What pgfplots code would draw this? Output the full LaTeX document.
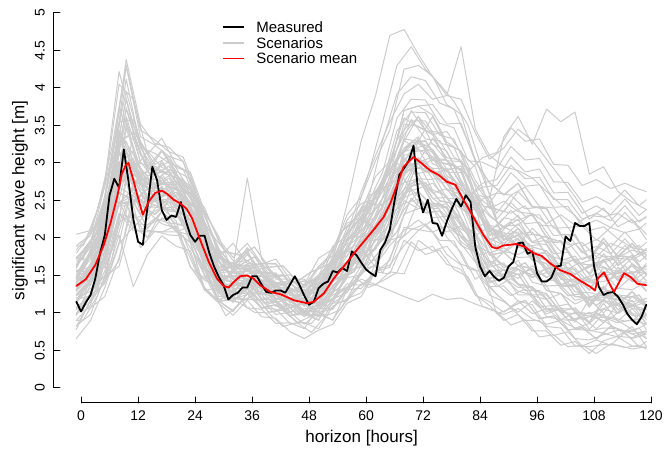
\documentclass[border=0pt]{standalone}
\usepackage{fontspec}
\setmainfont{Liberation Sans}
\usepackage{pgfplots}
\usepackage{pgfplotstable}
\pgfplotsset{compat=1.18}
\definecolor{scen}{RGB}{204,204,204}

% scenarios every 3 hours, one row per scenario; transposed below
\pgfplotstableread{
id c0 c1 c2 c3 c4 c5 c6 c7 c8 c9 c10 c11 c12 c13 c14 c15 c16 c17 c18 c19 c20 c21 c22 c23 c24 c25 c26 c27 c28 c29 c30 c31 c32 c33 c34 c35 c36 c37 c38 c39 c40
h -1 2 5 8 11 14 17 20 23 26 29 32 35 38 41 44 47 50 53 56 59 62 65 68 71 74 77 80 83 86 89 92 95 98 101 104 107 110 113 116 119
s1 1.52 1.82 2.24 3.43 3.11 2.74 2.73 2.66 2.30 1.86 1.37 1.35 1.45 1.20 1.17 1.01 1.06 1.06 1.35 1.51 1.90 2.08 2.58 3.01 3.33 3.07 3.04 2.72 2.46 1.97 2.04 1.88 1.83 1.54 1.48 1.22 1.21 1.24 1.22 1.15 1.19
s2 1.14 1.43 1.70 2.60 2.52 2.46 2.57 2.61 2.34 2.02 1.53 1.56 1.55 1.52 1.31 1.28 1.10 1.24 1.33 1.63 1.71 1.97 2.03 2.50 2.39 2.41 2.16 2.08 1.70 1.57 1.46 1.63 1.48 1.54 1.37 1.46 1.31 1.61 1.44 1.66 1.52
s3 1.72 1.90 2.55 3.70 3.35 2.93 2.89 2.86 2.53 2.17 1.62 1.61 1.58 1.53 1.34 1.33 1.18 1.37 1.55 1.97 2.17 2.60 2.86 3.52 3.49 3.38 3.03 2.90 2.37 2.15 2.02 2.19 1.95 2.03 1.82 1.92 1.73 1.99 1.76 1.93 1.72
s4 0.97 1.27 1.50 2.32 2.27 2.30 2.41 2.36 1.98 1.58 1.15 1.19 1.18 1.17 0.98 1.01 0.85 1.01 1.05 1.31 1.33 1.55 1.70 2.32 2.39 2.47 2.28 2.27 1.92 1.68 1.46 1.52 1.23 1.18 0.91 0.90 0.76 0.80 0.79 0.72 0.76
s5 1.31 1.66 2.02 3.14 3.02 2.83 2.88 2.80 2.42 2.03 1.49 1.50 1.46 1.41 1.25 1.29 1.15 1.38 1.50 1.89 2.03 2.39 2.53 3.05 2.94 2.86 2.53 2.39 1.92 1.68 1.46 1.52 1.24 1.24 1.02 1.07 0.88 1.18 1.00 1.22 1.08
s6 1.90 2.04 2.75 4.22 3.50 3.01 2.87 2.81 2.43 2.01 1.48 1.49 1.45 1.40 1.19 1.17 0.98 1.13 1.26 1.64 1.79 2.18 2.44 3.15 3.21 3.26 3.03 3.02 2.58 2.42 2.35 2.62 2.42 2.40 2.04 2.05 1.72 1.95 1.63 1.77 1.50
s7 0.82 1.16 1.43 2.31 2.19 2.18 2.25 2.31 2.03 1.72 1.31 1.37 1.40 1.41 1.25 1.29 1.14 1.37 1.54 1.97 2.17 2.61 2.94 3.70 3.76 3.64 3.28 3.15 2.58 2.31 2.13 2.25 1.94 1.91 1.59 1.58 1.30 1.56 1.32 1.49 1.29
s8 1.47 1.72 1.96 2.87 2.60 2.42 2.40 2.41 2.07 1.73 1.30 1.38 1.39 1.42 1.28 1.34 1.23 1.50 1.67 2.14 2.36 2.82 3.02 3.60 3.48 3.38 3.03 2.89 2.36 2.10 1.90 2.00 1.71 1.66 1.36 1.35 1.08 1.29 0.99 1.12 0.86
s9 1.23 1.39 1.94 2.74 2.81 2.43 2.68 2.45 2.33 1.77 1.57 1.62 2.80 1.72 1.45 1.45 1.29 1.49 1.61 1.97 2.08 2.39 2.52 3.05 2.93 2.92 2.65 2.58 2.14 1.99 1.91 2.13 1.94 1.97 1.70 1.76 1.51 1.72 1.43 1.55 1.29
s10 2.05 2.10 2.69 3.55 3.58 2.95 3.17 2.84 2.69 2.06 1.76 1.57 1.78 1.54 1.51 1.23 1.24 1.14 1.45 1.52 1.82 1.85 2.23 2.56 2.79 2.60 2.66 2.40 2.27 1.92 2.16 2.17 2.33 2.19 2.31 2.17 2.30 2.28 2.33 2.20 2.27
s11 0.66 0.90 1.34 1.92 2.15 2.01 2.36 2.09 1.94 1.31 1.13 0.97 1.17 0.95 0.93 0.75 0.66 0.77 0.85 1.13 1.22 1.55 1.61 2.14 2.11 2.08 1.78 1.64 1.24 1.10 0.90 0.98 0.76 0.76 0.57 0.62 0.46 0.63 0.69 0.67 0.76
s12 1.39 1.44 1.88 2.46 2.49 2.13 2.36 2.09 1.94 1.32 1.16 1.03 1.26 1.07 1.11 0.96 1.03 1.02 1.37 1.52 1.91 2.06 2.40 2.65 2.79 2.47 2.41 2.01 1.81 1.40 1.47 1.34 1.35 1.18 1.26 1.12 1.21 1.28 1.33 1.31 1.41
s13 1.63 1.88 2.16 3.15 2.93 2.71 2.72 2.71 2.37 2.03 1.55 1.62 1.63 1.66 1.48 1.51 1.36 1.62 1.81 2.31 2.55 3.03 3.44 4.25 4.30 4.16 3.78 3.65 3.03 2.73 2.58 2.73 2.42 2.39 2.05 2.04 1.72 2.00 1.74 1.93 1.71
s14 1.07 1.22 1.74 2.47 2.65 2.36 2.68 2.44 2.34 1.76 1.47 1.27 1.44 1.18 1.17 0.97 0.98 0.91 1.19 1.27 1.57 1.64 1.90 2.10 2.24 2.08 2.16 1.90 1.81 1.45 1.58 1.51 1.59 1.36 1.37 1.17 1.21 1.17 1.12 0.99 0.98
s15 1.40 1.60 2.29 3.27 3.41 2.88 3.16 2.89 2.79 2.21 1.85 1.62 1.81 1.54 1.53 1.29 1.31 1.26 1.58 1.68 2.01 2.06 2.48 2.83 3.07 2.86 2.91 2.64 2.49 2.08 2.27 2.23 2.32 2.01 1.95 1.67 1.64 1.60 1.55 1.42 1.41
s16 1.56 1.55 1.94 2.45 2.48 2.13 2.35 2.19 2.13 1.61 1.44 1.33 1.60 1.42 1.41 1.18 1.20 1.14 1.44 1.52 1.82 1.85 2.32 2.74 3.06 2.79 2.78 2.45 2.26 1.77 1.81 1.63 1.59 1.30 1.26 1.01 0.99 0.96 0.90 0.78 0.66
s17 1.15 1.33 1.42 2.04 1.35 1.78 2.03 1.89 1.83 1.31 1.16 1.02 1.26 1.06 1.11 0.96 1.02 1.03 1.20 1.34 1.45 1.38 1.30 1.22 1.15 1.25 1.18 1.20 1.12 1.05 0.98 1.06 0.92 0.85 0.90 0.80 0.86 1.05 1.00 1.10 1.05
s18 1.80 2.05 2.36 3.42 3.02 2.65 2.57 2.56 2.23 1.88 1.43 1.50 1.52 1.54 1.37 1.40 1.26 1.50 1.71 2.45 3.30 3.90 4.70 4.78 4.45 4.15 3.90 3.85 3.40 3.05 3.20 3.45 3.30 3.05 2.80 2.55 2.25 2.40 2.15 2.25 2.05
s19 1.30 1.60 1.89 2.86 2.77 2.66 2.72 2.76 2.47 2.18 1.61 1.62 1.57 1.54 1.30 1.29 1.09 1.25 1.33 1.64 1.70 1.97 2.19 2.88 2.93 3.05 2.90 2.96 2.58 2.53 3.35 3.62 3.25 3.72 3.55 3.68 2.85 2.95 2.62 2.48 2.38
s20 0.98 1.38 1.76 2.88 2.76 2.66 2.71 2.71 2.37 2.02 1.48 1.50 1.45 1.42 1.19 1.18 0.99 1.13 1.19 1.47 1.51 1.76 1.94 2.60 2.66 2.73 2.53 2.52 2.14 1.94 1.80 1.95 1.70 1.66 1.36 1.35 1.08 1.35 1.11 1.28 1.08
s21 1.48 1.77 2.09 3.01 2.98 2.49 2.67 2.40 2.23 1.62 1.34 1.15 1.32 1.07 1.05 0.86 0.87 0.79 1.09 1.19 1.53 1.64 2.15 2.65 3.07 2.86 2.91 2.64 2.49 2.03 2.15 2.05 2.08 1.77 1.72 1.46 1.42 1.49 1.55 1.52 1.63
s22 0.90 1.11 1.68 2.46 2.66 2.36 2.68 2.39 2.24 1.61 1.41 1.26 1.51 1.30 1.36 1.18 1.26 1.26 1.59 1.67 2.01 2.05 2.41 2.65 2.80 2.53 2.54 2.20 2.04 1.55 1.58 1.39 1.35 1.05 1.03 0.78 0.77 0.73 0.68 0.56 0.54
s23 1.74 1.93 2.70 4.05 3.85 3.12 3.33 2.98 2.84 2.21 1.85 1.62 1.81 1.54 1.53 1.29 1.31 1.26 1.66 1.84 2.30 2.47 2.99 3.38 3.62 3.38 3.42 3.14 2.95 2.39 2.49 2.35 2.32 2.01 1.95 1.67 1.64 1.70 1.77 1.74 1.85
s24 1.29 1.49 1.62 2.33 2.10 2.08 2.08 2.16 1.87 1.57 1.18 1.25 1.27 1.29 1.09 1.12 0.95 1.13 1.16 1.39 1.37 1.55 1.52 1.97 1.83 1.89 1.65 1.58 1.24 1.15 1.01 1.16 0.99 1.06 0.91 1.01 0.87 1.13 0.89 1.06 0.86
s25 1.24 1.43 2.08 2.99 3.16 2.71 3.00 2.74 2.64 2.06 1.79 1.62 1.87 1.66 1.66 1.40 1.43 1.38 1.69 1.76 2.06 2.05 2.32 2.46 2.52 2.27 2.29 1.95 1.81 1.35 1.36 1.16 1.11 0.82 0.80 0.56 0.55 0.58 0.57 0.52 0.55
s26 1.57 1.61 2.08 2.73 2.90 2.54 2.84 2.64 2.59 2.06 1.70 1.44 1.60 1.31 1.26 1.02 1.01 0.90 1.31 1.52 2.01 2.27 2.83 3.29 3.62 3.25 3.16 2.77 2.49 1.98 2.03 1.88 1.83 1.60 1.60 1.40 1.42 1.49 1.55 1.53 1.62
s27 1.64 1.88 2.16 3.15 2.77 2.48 2.40 2.36 1.97 1.58 1.15 1.20 1.18 1.18 1.03 1.12 1.01 1.26 1.43 1.90 2.12 2.61 2.94 3.70 3.76 3.78 3.52 3.53 3.02 2.74 2.57 2.73 2.41 2.39 2.05 2.04 1.72 1.94 1.64 1.77 1.51
s28 1.08 1.23 1.74 2.46 2.57 2.25 2.52 2.34 2.29 1.76 1.54 1.39 1.63 1.43 1.48 1.30 1.37 1.38 1.76 1.92 2.35 2.47 2.90 3.20 3.35 2.99 2.91 2.52 2.26 1.77 1.81 1.64 1.59 1.30 1.26 1.01 0.99 1.06 1.12 1.10 1.20
s29 1.41 1.55 2.15 3.00 2.99 2.48 2.69 2.39 2.24 1.61 1.38 1.20 1.42 1.18 1.24 1.07 1.15 1.14 1.62 2.06 2.62 3.10 3.55 3.92 4.05 3.85 3.90 4.55 3.45 3.10 2.95 2.90 2.80 2.62 2.45 2.30 2.10 2.15 1.99 1.87 1.83
s30 1.47 1.83 2.22 3.30 3.40 2.89 3.16 2.94 2.88 2.36 1.98 1.74 1.93 1.66 1.65 1.40 1.42 1.38 1.73 1.85 2.20 2.27 2.57 2.74 2.79 2.47 2.41 2.01 1.81 1.45 1.58 1.51 1.59 1.47 1.60 1.51 1.64 1.70 1.76 1.74 1.84
s31 1.45 1.52 1.82 2.24 3.43 3.11 2.74 2.73 2.66 2.30 1.86 1.37 1.35 1.45 1.20 1.17 1.01 1.06 1.06 1.35 1.51 1.90 2.08 2.58 3.01 3.33 3.07 3.04 2.72 2.46 1.97 2.04 1.88 1.83 1.54 1.48 1.22 1.21 1.24 1.22 1.15
s32 1.40 1.85 2.45 3.02 2.83 2.88 2.80 2.42 2.03 1.49 1.50 1.46 1.41 1.25 1.29 1.15 1.38 1.50 1.89 2.03 2.39 2.53 3.05 2.94 2.86 2.53 2.39 1.92 1.68 1.46 1.52 1.24 1.24 1.02 1.07 0.88 1.18 1.00 1.22 1.08 1.15
s33 1.72 1.97 2.21 3.12 2.85 2.67 2.65 2.66 2.32 1.98 1.55 1.63 1.64 1.52 1.38 1.44 1.33 1.60 1.77 2.24 2.46 2.52 2.72 3.30 3.18 3.08 2.73 2.59 2.06 1.80 1.60 1.70 1.41 1.36 1.06 1.05 0.78 0.99 0.69 0.82 0.56
s34 1.00 1.07 1.22 1.74 2.47 2.65 2.36 2.68 2.44 2.34 1.76 1.47 1.27 1.44 1.18 1.17 0.97 0.98 0.91 1.19 1.27 1.57 1.64 1.90 2.10 2.24 2.08 2.16 1.90 1.81 1.45 1.58 1.51 1.59 1.36 1.37 1.17 1.21 1.17 1.12 0.99
s35 0.78 1.18 1.56 2.68 2.56 2.46 2.51 2.51 2.17 1.82 1.28 1.30 1.25 1.52 1.29 1.28 1.09 1.23 1.29 1.57 1.61 2.11 2.29 2.95 3.01 3.08 2.88 2.87 2.49 2.29 2.15 2.30 2.05 2.01 1.71 1.70 1.43 1.70 1.46 1.63 1.43
s36 1.60 1.95 2.50 2.98 2.49 2.67 2.40 2.23 1.62 1.34 1.15 1.32 1.07 1.05 0.86 0.87 0.79 1.09 1.19 1.53 1.64 2.15 2.65 3.07 2.86 2.91 2.64 2.49 2.03 2.15 2.05 2.08 1.77 1.72 1.46 1.42 1.49 1.55 1.52 1.63 1.58
s37 1.69 1.74 2.18 2.76 2.79 2.43 2.66 2.39 2.24 1.62 1.16 1.03 1.26 1.07 1.11 0.96 1.03 1.02 1.37 1.52 1.91 2.46 2.80 3.05 3.19 2.87 2.81 2.41 2.21 1.80 1.87 1.74 1.75 1.58 1.66 1.52 1.61 1.68 1.73 1.71 1.81
s38 1.50 1.57 1.61 2.08 2.73 2.90 2.54 2.84 2.64 2.40 1.95 1.70 1.44 1.60 1.31 1.26 1.02 1.01 0.90 1.31 1.52 2.01 2.27 2.83 3.29 3.62 3.25 3.16 2.77 2.49 1.98 2.03 1.88 1.83 1.60 1.60 1.40 1.42 1.49 1.55 1.53
s39 0.83 0.98 1.49 2.21 2.32 2.00 2.27 2.09 2.04 1.51 1.29 1.14 1.38 1.33 1.38 1.20 1.27 1.28 1.66 1.82 2.25 2.12 2.55 2.85 3.00 2.64 2.56 2.17 1.91 1.42 1.46 1.29 1.24 0.95 0.91 0.66 0.64 0.71 0.77 0.75 0.85
s40 1.45 1.80 2.45 2.48 2.13 2.35 2.19 2.13 1.61 1.44 1.33 1.60 1.42 1.41 1.18 1.20 1.14 1.44 1.52 1.82 1.85 2.32 2.74 3.06 2.79 2.78 2.45 2.26 1.77 1.81 1.63 1.59 1.30 1.26 1.01 0.99 0.96 0.90 0.78 0.66 0.72
s41 1.32 1.50 2.15 3.30 2.95 2.53 2.49 2.46 2.13 1.77 1.22 1.21 1.18 1.53 1.34 1.33 1.18 1.37 1.55 1.97 2.17 2.40 2.66 3.32 3.29 3.18 2.83 2.70 2.17 1.95 1.82 1.99 1.75 1.83 1.62 1.72 1.53 1.79 1.56 1.73 1.52
s42 1.20 1.29 1.49 1.62 2.33 2.10 2.08 2.08 2.16 1.87 1.57 1.18 1.25 1.27 1.29 1.09 1.12 0.95 1.13 1.16 1.39 1.37 1.55 1.52 1.97 1.83 1.89 1.65 1.58 1.24 1.15 1.01 1.16 0.99 1.06 0.91 1.01 0.87 1.13 0.89 1.06
s43 1.05 1.25 1.94 2.92 3.06 2.53 2.81 2.54 2.44 1.86 1.70 1.47 1.66 1.39 1.38 1.14 1.16 1.11 1.43 1.53 1.86 1.61 2.03 2.38 2.62 2.41 2.46 2.19 2.04 1.63 1.82 1.78 1.87 1.56 1.50 1.22 1.19 1.15 1.10 0.97 0.96
s44 1.60 1.95 2.55 3.40 2.89 3.16 2.94 2.88 2.36 1.98 1.74 1.93 1.66 1.65 1.40 1.42 1.38 1.73 1.85 2.20 2.27 2.57 2.74 2.79 2.47 2.41 2.01 1.81 1.45 1.58 1.51 1.59 1.47 1.60 1.51 1.64 1.70 1.76 1.74 1.84 1.78
s45 1.12 1.46 1.73 2.61 2.49 2.48 2.55 2.61 2.33 2.02 1.61 1.67 1.70 1.51 1.35 1.39 1.24 1.47 1.64 2.07 2.27 2.11 2.44 3.20 3.26 3.14 2.78 2.65 2.38 2.11 1.93 2.05 1.74 1.71 1.39 1.38 1.10 1.36 1.12 1.29 1.09
s46 1.18 1.23 1.39 1.94 2.74 2.81 2.43 2.68 2.45 2.33 1.77 1.57 1.62 1.65 1.72 1.45 1.45 1.29 1.49 1.61 1.97 2.08 2.39 2.52 3.05 2.93 2.92 2.65 2.58 2.14 1.99 1.91 2.13 1.94 1.97 1.70 1.76 1.51 1.72 1.43 1.55
s47 1.25 1.46 2.03 2.81 3.01 2.71 3.03 2.74 2.59 1.96 1.76 1.61 1.86 1.30 1.36 1.18 1.26 1.26 1.59 1.67 2.01 2.55 2.91 3.15 3.30 3.03 3.04 2.70 2.54 2.05 2.08 1.89 1.85 1.55 1.53 1.28 1.27 1.23 1.18 1.06 1.04
s48 1.05 1.14 1.43 1.70 2.60 2.52 2.46 2.57 2.61 2.34 2.02 1.53 1.56 1.55 1.52 1.31 1.28 1.10 1.24 1.33 1.63 1.71 1.97 2.03 2.50 2.39 2.41 2.16 2.08 1.70 1.57 1.46 1.63 1.48 1.54 1.37 1.46 1.31 1.61 1.44 1.66
s49 1.84 2.08 2.36 3.35 2.97 2.68 2.60 2.56 2.17 1.78 1.35 1.40 1.38 1.33 1.18 1.27 1.16 1.41 1.58 2.05 2.27 2.01 2.34 3.10 3.16 3.18 2.92 2.93 2.42 2.14 1.97 2.13 1.81 1.79 1.45 1.44 1.12 1.34 1.04 1.17 0.91
s50 1.42 1.65 2.47 2.42 2.45 2.56 2.51 2.13 1.73 1.30 1.34 1.33 1.32 1.13 1.16 1.00 1.16 1.20 1.46 1.48 1.70 1.85 2.47 2.54 2.62 2.43 2.42 2.07 1.83 1.61 1.67 1.38 1.33 1.06 1.05 0.91 0.95 0.94 0.87 0.91 0.85
}\rawscen
\pgfplotstabletranspose[colnames from=id]{\scen}{\rawscen}

% more scenarios, read at hours offset by 1.5 h from the first set
\pgfplotstableread{
id d0 d1 d2 d3 d4 d5 d6 d7 d8 d9 d10 d11 d12 d13 d14 d15 d16 d17 d18 d19 d20 d21 d22 d23 d24 d25 d26 d27 d28 d29 d30 d31 d32 d33 d34 d35 d36 d37 d38 d39 d40 d41
g -1 0.5 3.5 6.5 9.5 12.5 15.5 18.5 21.5 24.5 27.5 30.5 33.5 36.5 39.5 42.5 45.5 48.5 51.5 54.5 57.5 60.5 63.5 66.5 69.5 72.5 75.5 78.5 81.5 84.5 87.5 90.5 93.5 96.5 99.5 102.5 105.5 108.5 111.5 114.5 117.5 119
t1 1.55 1.58 1.99 2.84 4.12 3.21 3.13 3.00 2.92 2.44 1.95 1.46 1.63 1.51 1.47 1.28 1.31 1.20 1.48 1.64 2.01 2.04 2.33 2.63 3.11 2.88 2.87 2.58 2.44 2.33 2.60 2.57 2.68 2.42 2.40 2.14 2.16 1.97 2.14 2.07 2.12 1.98
t2 1.15 1.34 1.51 2.59 3.74 3.11 2.84 2.96 2.66 2.41 1.70 1.43 1.39 1.50 1.26 1.27 1.10 1.19 1.25 1.61 1.72 2.16 2.43 3.04 3.27 3.29 3.01 2.96 2.55 2.68 2.70 2.97 2.79 2.81 2.51 2.51 2.25 2.33 2.23 2.43 2.21 2.29
t3 1.39 1.41 1.81 2.79 4.30 3.35 3.24 3.09 3.02 2.52 2.07 1.57 1.76 1.63 1.60 1.39 1.43 1.31 1.62 1.79 2.19 2.33 2.79 3.18 3.70 3.43 3.41 3.08 2.93 2.43 2.38 2.33 2.43 2.17 2.16 1.91 1.94 1.75 1.93 1.85 1.90 1.76
t4 1.72 1.73 2.19 2.71 3.59 2.76 2.79 2.68 2.63 2.14 1.67 1.21 1.38 1.26 1.24 1.05 1.09 0.97 1.22 1.34 1.66 1.64 1.88 2.08 2.53 2.33 2.36 2.08 1.96 1.43 1.25 1.08 1.17 0.93 0.96 0.77 0.80 0.66 0.82 0.76 0.68 0.74
t5 0.98 1.17 1.31 2.09 2.91 2.44 2.32 2.48 2.21 1.96 1.35 1.18 1.14 1.25 1.01 1.04 0.87 0.96 0.98 1.31 1.37 1.76 1.98 2.49 2.69 2.74 2.49 2.46 2.07 1.59 0.99 1.06 0.90 0.90 0.70 0.75 0.56 0.64 0.57 0.74 0.55 0.62
t6 1.47 1.67 1.88 2.89 3.84 3.20 2.91 3.02 2.72 2.47 1.80 1.56 1.52 1.62 1.37 1.39 1.20 1.31 1.37 1.76 1.90 2.47 2.88 3.60 3.85 3.84 3.53 3.47 3.03 3.01 2.92 3.22 3.04 3.06 2.75 2.74 2.48 2.55 2.45 2.64 2.43 2.51
t7 1.31 1.50 1.69 2.46 3.18 2.66 2.49 2.64 2.36 2.11 1.63 1.56 1.52 1.63 1.37 1.40 1.20 1.31 1.38 1.75 1.90 1.86 1.53 1.94 2.11 2.19 1.97 1.96 1.59 1.55 1.35 1.46 1.30 1.30 1.08 1.12 0.91 1.00 0.92 1.10 0.90 0.97
t8 0.90 0.91 1.24 1.72 2.76 2.09 2.26 2.20 2.18 1.69 1.32 0.96 1.13 1.01 1.00 0.82 0.87 0.74 0.96 1.04 1.31 1.44 1.88 2.08 2.53 2.34 2.36 2.09 1.96 1.65 1.70 1.58 1.67 1.43 1.44 1.23 1.26 1.10 1.26 1.20 1.24 1.10
t9 1.89 1.90 2.38 3.21 4.30 3.44 3.31 3.15 3.08 2.58 2.05 1.81 1.77 1.88 1.61 1.63 1.42 1.55 1.63 2.06 2.24 2.46 2.43 3.04 3.27 3.29 3.01 2.96 2.55 2.34 2.02 2.21 2.04 2.05 1.79 1.81 1.58 1.66 1.57 1.76 1.55 1.63
t10 1.30 1.51 1.70 2.66 3.62 3.02 2.77 2.90 2.60 2.35 1.67 1.44 1.39 1.50 1.25 1.28 1.09 1.20 1.36 1.62 1.90 2.52 3.30 3.92 4.15 4.10 3.80 3.72 3.27 2.83 2.33 2.57 2.39 2.41 2.13 2.14 1.89 1.98 1.88 2.08 1.86 1.94
t11 1.24 1.24 1.62 1.84 2.49 1.87 2.09 2.04 2.03 1.54 1.39 1.20 1.38 1.26 1.24 1.05 1.09 0.97 1.22 1.34 1.66 1.84 2.33 2.63 3.11 2.88 2.88 2.58 2.44 1.72 1.38 1.23 1.32 1.08 1.10 0.91 0.94 0.79 0.95 0.89 0.92 0.78
t12 1.48 1.68 1.88 2.84 3.86 2.99 2.96 2.84 2.78 2.29 1.56 1.18 1.14 1.24 1.01 1.04 0.88 0.86 1.09 1.19 1.48 1.34 1.43 1.54 1.95 1.78 1.84 1.58 1.48 1.09 1.02 0.84 0.91 0.68 0.71 0.55 0.57 0.46 0.59 0.54 0.57 0.52
t13 1.63 1.84 2.07 3.07 3.95 3.29 2.98 3.09 2.78 2.53 1.90 1.69 1.64 1.75 1.49 1.51 1.31 1.43 1.50 1.91 2.07 2.51 2.74 3.43 3.68 3.67 3.37 3.32 2.89 3.07 3.14 3.47 3.29 3.32 2.98 2.97 2.70 2.78 2.66 2.73 2.65 2.62
t14 1.06 1.08 1.43 2.22 3.46 2.89 2.67 2.80 2.51 2.26 1.64 1.43 1.40 1.49 1.27 1.26 1.11 1.18 1.25 1.60 1.73 1.96 1.99 2.49 2.70 2.74 2.50 2.46 2.08 2.18 2.15 2.37 2.19 2.21 1.94 1.95 1.71 1.80 1.70 1.90 1.68 1.76
t15 1.38 1.40 1.80 2.22 3.04 2.32 2.44 2.36 2.33 1.84 1.67 1.45 1.63 1.51 1.48 1.28 1.31 1.20 1.49 1.64 2.02 2.19 2.70 3.07 3.58 3.32 3.30 2.98 2.83 2.05 1.70 1.58 1.67 1.43 1.44 1.23 1.26 1.10 1.26 1.20 1.24 1.10
t16 1.56 1.57 2.00 3.01 4.38 3.52 3.26 3.21 3.02 2.45 1.80 1.31 1.27 1.37 1.13 1.16 0.98 1.08 1.12 1.45 1.55 1.96 2.21 2.77 2.98 3.02 2.75 2.72 2.31 2.52 2.60 2.87 2.69 2.71 2.41 2.42 2.16 2.24 2.14 2.34 2.12 2.20
t17 1.14 1.34 1.50 2.39 3.29 2.75 2.56 2.70 2.42 2.17 1.80 1.82 1.77 1.88 1.61 1.63 1.42 1.55 1.63 2.06 2.25 2.56 2.66 3.31 3.56 3.56 3.27 3.21 2.79 2.38 1.88 2.06 1.89 1.91 1.65 1.68 1.44 1.53 1.45 1.63 1.42 1.50
t18 1.32 1.49 1.71 2.70 3.72 3.11 2.83 2.96 2.65 2.41 1.69 1.34 1.50 1.38 1.36 1.17 1.20 1.08 1.34 1.49 1.83 1.78 1.97 2.19 2.66 2.44 2.46 2.18 2.06 1.47 1.25 1.08 1.17 0.92 0.96 0.77 0.81 0.65 0.82 0.75 0.80 0.66
t19 1.64 1.83 2.08 2.59 2.91 2.44 2.31 2.48 2.21 1.96 1.42 1.31 1.27 1.37 1.13 1.16 0.98 1.08 1.11 1.46 1.55 2.06 2.43 3.05 3.27 3.30 3.01 2.97 2.55 2.73 2.78 3.08 2.88 2.92 2.60 2.61 2.33 2.43 2.31 2.52 2.30 2.38
t20 0.97 1.17 1.32 2.36 3.51 2.93 2.70 2.83 2.54 2.29 1.78 1.68 1.64 1.75 1.49 1.50 1.31 1.42 1.50 1.92 2.25 2.85 3.55 4.30 4.55 4.25 4.05 3.82 3.50 2.90 2.25 2.47 2.29 2.31 2.03 2.05 1.80 1.89 1.79 1.99 1.77 1.86
}\rawscenb
\pgfplotstabletranspose[colnames from=id]{\scenb}{\rawscenb}

\begin{document}
\begin{tikzpicture}
\path[use as bounding box] (-54pt,-46pt) rectangle (613pt,403pt);
\begin{axis}[
  at={(0pt,0pt)}, anchor=south west,
  scale only axis, width=615.1pt, height=405pt,
  xmin=-5.7, xmax=123.8, ymin=-0.2, ymax=5.2,
  clip=false,
  axis line style={draw=none},
  tick pos=left, tick align=inside, major tick length=6pt,
  every tick/.style={black, line width=1pt},
  xtick={0,12,...,120}, ytick={0,0.5,...,5},
  /pgf/number format/assume math mode=true,
  tick label style={font=\fontsize{14}{16}\selectfont, inner sep=0pt},
  yticklabel style={rotate=90, anchor=south},
  yticklabel shift=9pt,
  xticklabel shift=8pt,
  every axis x label/.style={at={(axis description cs:0.5,0)}, yshift=-35.5pt, anchor=center},
  every axis y label/.style={at={(axis description cs:0,0.5)}, xshift=-34pt, rotate=90, anchor=center},
  label style={font=\fontsize{17}{20}\selectfont},
  xlabel={horizon [hours]},
  ylabel={significant wave height [m]},
  legend style={at={(axis cs:29.75,4.885)}, anchor=north west, draw=none, fill=none,
    font=\fontsize{15}{17}\selectfont, inner sep=0pt, row sep=2.2pt, column sep=0pt,
    nodes={inner sep=0pt, text height=10.5pt, text depth=3pt, anchor=base west}},
  legend cell align=left,
  legend image code/.code={\draw[#1] (0pt,5.3pt) -- (21pt,5.3pt); \path (32pt,0pt);},
  line join=round, line cap=round,
]
\pgfplotsinvokeforeach{1,...,50}{
  \addplot[scen, line width=1pt, forget plot] table[x=h, y=s#1] {\scen};
}
\pgfplotsinvokeforeach{1,...,20}{
  \addplot[scen, line width=1pt, forget plot] table[x=g, y=t#1] {\scenb};
}

\addplot[black, line width=1.8pt, forget plot] coordinates {
(-1,1.15) (0,1.02) (1,1.14) (2,1.24) (3,1.46) (4,1.80) (5,2.04) (6,2.57) (7,2.79) (8,2.67)
(9,3.18) (10,2.75) (11,2.25) (12,1.95) (13,1.91) (14,2.42) (15,2.95) (16,2.77) (17,2.37) (18,2.24)
(19,2.30) (20,2.28) (21,2.48) (22,2.24) (23,2.04) (24,1.95) (25,2.03) (26,2.03) (27,1.80) (28,1.62)
(29,1.48) (30,1.37) (31,1.18) (32,1.24) (33,1.27) (34,1.34) (35,1.34) (36,1.49) (37,1.49) (38,1.38)
(39,1.28) (40,1.27) (41,1.30) (42,1.30) (43,1.27) (44,1.38) (45,1.49) (46,1.37) (47,1.23) (48,1.11)
(49,1.15) (50,1.33) (51,1.39) (52,1.42) (53,1.56) (54,1.54) (55,1.60) (56,1.56) (57,1.82) (58,1.77)
(59,1.67) (60,1.58) (61,1.53) (62,1.49) (63,1.84) (64,1.94) (65,2.11) (66,2.50) (67,2.84) (68,2.93)
(69,3.03) (70,3.23) (71,2.60) (72,2.34) (73,2.51) (74,2.20) (75,2.19) (76,2.03) (77,2.22) (78,2.38)
(79,2.52) (80,2.42) (81,2.57) (82,2.48) (83,1.88) (84,1.62) (85,1.49) (86,1.56) (87,1.48) (88,1.43)
(89,1.47) (90,1.62) (91,1.68) (92,1.93) (93,1.94) (94,1.79) (95,1.82) (96,1.53) (97,1.42) (98,1.42)
(99,1.47) (100,1.62) (101,1.63) (102,2.02) (103,1.96) (104,2.20) (105,2.16) (106,2.16) (107,2.20) (108,1.62)
(109,1.35) (110,1.24) (111,1.27) (112,1.28) (113,1.22) (114,1.12) (115,0.99) (116,0.91) (117,0.85) (118,0.95)
(119,1.11)};

\addplot[red, line width=1.8pt, forget plot] coordinates {
(-1,1.36) (1,1.45) (3,1.64) (4.8,1.91) (6.2,2.20) (7.6,2.55) (8.6,2.86) (9.5,2.98) (10,3.00) (11.1,2.75)
(12.1,2.51) (13,2.31) (14.2,2.48) (15.6,2.60) (17,2.63) (18.1,2.59) (19.5,2.51) (20.9,2.46) (22.2,2.39) (23.4,2.26)
(25.1,1.97) (26.9,1.68) (28.6,1.46) (30,1.36) (31.1,1.34) (32.1,1.41) (33.5,1.49) (34.9,1.50) (36.3,1.46) (37.7,1.37)
(39.9,1.28) (42,1.25) (44.8,1.17) (47.6,1.13) (49,1.15) (51.1,1.26) (53.2,1.46) (55.3,1.62) (57.4,1.79) (59.5,1.95)
(61.6,2.11) (63.7,2.28) (65.1,2.46) (66.5,2.70) (67.9,2.95) (70,3.08) (71.8,2.99) (73.5,2.90) (75.3,2.84) (77,2.75)
(78.8,2.71) (80.5,2.51) (82.6,2.28) (84.7,2.04) (86.5,1.88) (87.5,1.86) (88.9,1.90) (91.7,1.92) (93.5,1.88) (95.2,1.80)
(97,1.76) (98.8,1.66) (100.9,1.57) (103,1.52) (105.1,1.43) (107.2,1.35) (108.2,1.30) (108.8,1.46) (110.1,1.54) (111.1,1.41)
(112.2,1.28) (113.2,1.40) (114.3,1.53) (115.7,1.48) (117.1,1.39) (119,1.37)};

\addlegendimage{black, line width=1.8pt}
\addlegendentry{Measured}
\addlegendimage{scen, line width=1.8pt}
\addlegendentry{Scenarios}
\addlegendimage{red, line width=1.8pt}
\addlegendentry{Scenario mean}

\draw[line width=1pt, line cap=rect] (axis cs:0,-0.2) -- (axis cs:120,-0.2);
\draw[line width=1pt, line cap=rect] (axis cs:-5.7,0) -- (axis cs:-5.7,5);
\end{axis}
\end{tikzpicture}
\end{document}
